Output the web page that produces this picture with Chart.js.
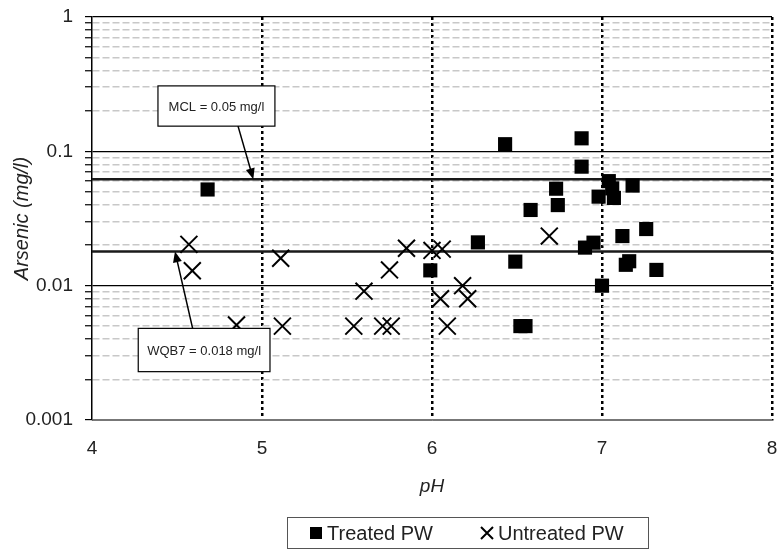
<!DOCTYPE html>
<html>
<head>
<meta charset="utf-8">
<script src="https://cdn.jsdelivr.net/npm/chart.js@4.4.0/dist/chart.umd.min.js"></script>
<style>
  body { margin: 0; background: #fff; }
  #wrap { width: 779px; height: 550px; }
</style>
</head>
<body>
<div id="wrap"><canvas id="arsenicChart" width="779" height="550"></canvas></div>
<script>
// Treated produced water: pH and arsenic (mg/l)
var treatedPH = [4.68, 5.99, 6.27, 6.43, 6.49, 6.52, 6.55, 6.58, 6.73, 6.74, 6.88, 6.88, 6.90,
                 6.95, 6.98, 7.00, 7.04, 7.06, 7.07, 7.12, 7.14, 7.16, 7.18, 7.26, 7.32];
var treatedAs = [0.052, 0.013, 0.021, 0.113, 0.0151, 0.005, 0.005, 0.0366, 0.0527, 0.0398, 0.125, 0.0769, 0.0192,
                 0.0209, 0.046, 0.0100, 0.060, 0.053, 0.045, 0.0234, 0.0143, 0.0152, 0.0556, 0.0264, 0.0131];

// Untreated produced water
var untreatedPH = [4.57, 4.59, 4.85, 5.11, 5.12, 5.54, 5.60, 5.71, 5.76, 5.75, 5.85, 6.00, 6.06,
                   6.05, 6.09, 6.18, 6.21, 6.69];
var untreatedAs = [0.0203, 0.0129, 0.0051, 0.0160, 0.005, 0.005, 0.0091, 0.005, 0.005, 0.0131, 0.0190, 0.0183, 0.0187,
                   0.0080, 0.005, 0.0100, 0.0080, 0.0234];

// Limits as drawn on the chart
var mclLevel = 0.062;
var wqb7Level = 0.018;

var xTicks = [4, 5, 6, 7, 8];
var yDecades = [0.001, 0.01, 0.1, 1];

var FONT = "'Liberation Sans', Arial, sans-serif";
var TEXT = '#222';

function pairs(xs, ys) {
    return xs.map(function(x, i) { return {x: x, y: ys[i]}; });
}
function isDecade(v) {
    var l = Math.log10(v);
    return Math.abs(l - Math.round(l)) < 1e-9;
}

// Callout boxes (data coordinates)
var notes = [
    {text: 'MCL = 0.05 mg/l', x1: 4.388, x2: 5.076, y1: 0.307, y2: 0.154, from: [4.859, 0.154], to: [4.949, mclLevel]},
    {text: 'WQB7 = 0.018 mg/l', x1: 4.272, x2: 5.047, y1: 0.00481, y2: 0.00229, from: [4.592, 0.00481], to: [4.488, wqb7Level]}
];

var notePlugin = {
    id: 'notes',
    afterDatasetsDraw: function(chart) {
        var ctx = chart.ctx, xs = chart.scales.x, ys = chart.scales.y;
        ctx.save();
        notes.forEach(function(n) {
            var l = xs.getPixelForValue(n.x1), r = xs.getPixelForValue(n.x2);
            var t = ys.getPixelForValue(n.y1), b = ys.getPixelForValue(n.y2);
            ctx.fillStyle = '#fff';
            ctx.fillRect(l, t, r - l, b - t);
            ctx.strokeStyle = '#000';
            ctx.lineWidth = 1.2;
            ctx.strokeRect(l, t, r - l, b - t);
            ctx.fillStyle = TEXT;
            ctx.font = '13px ' + FONT;
            ctx.textAlign = 'center';
            ctx.textBaseline = 'middle';
            ctx.fillText(n.text, (l + r) / 2, (t + b) / 2 + 1);

            // arrow
            var fx = xs.getPixelForValue(n.from[0]), fy = ys.getPixelForValue(n.from[1]);
            var tx = xs.getPixelForValue(n.to[0]), ty = ys.getPixelForValue(n.to[1]);
            var a = Math.atan2(ty - fy, tx - fx);
            ctx.lineWidth = 1.5;
            ctx.beginPath();
            ctx.moveTo(fx, fy);
            ctx.lineTo(tx - 8 * Math.cos(a), ty - 8 * Math.sin(a));
            ctx.stroke();
            ctx.fillStyle = '#000';
            ctx.beginPath();
            ctx.moveTo(tx, ty);
            ctx.lineTo(tx - 11 * Math.cos(a) + 4.5 * Math.sin(a), ty - 11 * Math.sin(a) - 4.5 * Math.cos(a));
            ctx.lineTo(tx - 11 * Math.cos(a) - 4.5 * Math.sin(a), ty - 11 * Math.sin(a) + 4.5 * Math.cos(a));
            ctx.closePath();
            ctx.fill();
        });
        ctx.restore();
    }
};

// Boxed legend under the axis title
var legendPlugin = {
    id: 'boxLegend',
    afterDraw: function(chart) {
        var ctx = chart.ctx, ds = chart.data.datasets;
        var cy = 533;
        ctx.save();
        ctx.strokeStyle = '#555';
        ctx.lineWidth = 1;
        ctx.strokeRect(287.5, 517.5, 361, 31);
        ctx.fillStyle = '#000';
        ctx.fillRect(310, cy - 6, 12, 12);
        ctx.strokeStyle = '#000';
        ctx.lineWidth = 2;
        ctx.beginPath();
        ctx.moveTo(481, cy - 6); ctx.lineTo(493, cy + 6);
        ctx.moveTo(493, cy - 6); ctx.lineTo(481, cy + 6);
        ctx.stroke();
        ctx.fillStyle = TEXT;
        ctx.font = '20px ' + FONT;
        ctx.textAlign = 'left';
        ctx.textBaseline = 'middle';
        ctx.fillText(ds[0].label, 327, cy + 1);
        ctx.fillText(ds[1].label, 498, cy + 1);
        ctx.restore();
    }
};

new Chart(document.getElementById('arsenicChart'), {
    type: 'scatter',
    data: {
        datasets: [{
            label: 'Treated PW',
            data: pairs(treatedPH, treatedAs),
            pointStyle: 'rect',
            pointRadius: 10,
            pointHoverRadius: 10,
            backgroundColor: '#000',
            borderWidth: 0
        }, {
            label: 'Untreated PW',
            data: pairs(untreatedPH, untreatedAs),
            pointStyle: 'crossRot',
            pointRadius: 12,
            pointHoverRadius: 12,
            borderColor: '#000',
            backgroundColor: '#000',
            borderWidth: 2
        }, {
            label: 'MCL',
            type: 'line',
            data: [{x: 4, y: mclLevel}, {x: 8, y: mclLevel}],
            borderColor: '#1a1a1a',
            borderWidth: 2.5,
            pointRadius: 0
        }, {
            label: 'WQB7',
            type: 'line',
            data: [{x: 4, y: wqb7Level}, {x: 8, y: wqb7Level}],
            borderColor: '#1a1a1a',
            borderWidth: 2.5,
            pointRadius: 0
        }]
    },
    options: {
        responsive: false,
        animation: false,
        devicePixelRatio: 1,
        layout: {autoPadding: false, padding: {left: 0, right: 7, top: 17, bottom: 0}},
        plugins: {legend: {display: false}, tooltip: {enabled: false}},
        scales: {
            x: {
                type: 'linear',
                min: 4,
                max: 8,
                afterBuildTicks: function(s) { s.ticks = xTicks.map(function(v) { return {value: v}; }); },
                afterFit: function(s) {
                    s.height = 130;
                    s.paddingLeft = 0;
                    s.paddingRight = 0;
                },
                ticks: {padding: 17, color: TEXT, font: {family: FONT, size: 19}},
                grid: {
                    drawTicks: false,
                    color: function(c) { return c.tick && c.tick.value === 4 ? 'rgba(0,0,0,0)' : '#000'; },
                    lineWidth: 2.5
                },
                border: {
                    color: '#777',
                    width: 1,
                    dash: function(c) { return c.tick ? [3, 3] : []; }
                },
                title: {
                    display: true,
                    text: 'pH',
                    color: TEXT,
                    font: {family: FONT, size: 19, style: 'italic'},
                    padding: {top: 0, bottom: 52}
                }
            },
            y: {
                type: 'logarithmic',
                min: 0.001,
                max: 1,
                afterBuildTicks: function(s) {
                    var t = [];
                    for (var d = 0; d < yDecades.length; d++) {
                        t.push({value: yDecades[d], major: true});
                        if (d < yDecades.length - 1) {
                            for (var k = 2; k <= 9; k++) {
                                t.push({value: +(k * yDecades[d]).toPrecision(3), major: false});
                            }
                        }
                    }
                    s.ticks = t;
                },
                afterFit: function(s) {
                    s.width = 92;
                    s.paddingTop = 0;
                    s.paddingBottom = 0;
                },
                ticks: {
                    autoSkip: false,
                    padding: 12,
                    color: TEXT,
                    font: {family: FONT, size: 19},
                    callback: function(v) { return isDecade(v) ? String(v) : ''; }
                },
                grid: {
                    color: function(c) {
                        if (!c.tick) return '#000';
                        if (!isDecade(c.tick.value)) return '#c8c8c8';
                        return c.tick.value === 0.001 ? '#777' : '#000';
                    },
                    lineWidth: function(c) { return c.tick && !isDecade(c.tick.value) ? 1.5 : 1.2; },
                    tickColor: '#000',
                    tickLength: 7,
                    tickWidth: 1.2
                },
                border: {
                    color: '#000',
                    width: 1.5,
                    dash: function(c) { return c.tick && !isDecade(c.tick.value) ? [7, 3] : []; }
                },
                title: {
                    display: true,
                    text: 'Arsenic (mg/l)',
                    color: TEXT,
                    font: {family: FONT, size: 20, style: 'italic'},
                    padding: {top: 10, bottom: 0}
                }
            }
        }
    },
    plugins: [notePlugin, legendPlugin]
});
</script>
</body>
</html>
